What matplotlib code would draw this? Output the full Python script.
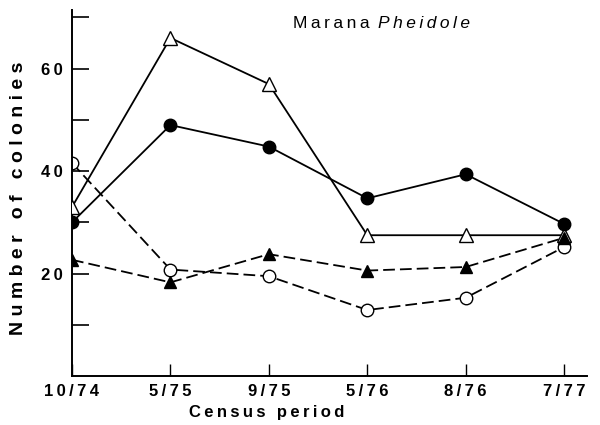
import matplotlib.pyplot as plt
import numpy as np

# census periods and colony counts
periods = ["10/74", "5/75", "9/75", "5/76", "8/76", "7/77"]
open_tri = [33, 66, 57, 27.5, 27.5, 27.5]
filled_circ = [30, 49, 44.8, 34.7, 39.4, 29.7]
open_circ = [41.6, 20.8, 19.5, 12.9, 15.3, 25.2]
filled_tri = [22.7, 18.3, 23.8, 20.6, 21.3, 27]

plt.rcParams['font.family'] = ['Liberation Sans', 'DejaVu Sans']

TS = '\u2009'  # thin space, for the wide letter spacing of the print


def spaced(s, gap=TS):
    # put a thin space between letters, a wider gap between words
    words = s.split(' ')
    return (gap + ' ' + gap).join(gap.join(w) for w in words)


fig = plt.figure(figsize=(6, 4.25), dpi=100)
ax = fig.add_axes([0.12, 0.115, 0.858, 0.862])

x = np.arange(len(periods))
dash = (0, (6.5, 2.8))

ax.plot(x, open_tri, color='black', lw=1.3, marker='^', ms=10,
        mfc='white', mec='black', mew=1.0, zorder=3)
ax.plot(x, filled_circ, color='black', lw=1.3, marker='o', ms=9,
        mfc='black', mec='black', zorder=4)
ax.plot(x, open_circ, color='black', lw=1.3, ls=dash, marker='o', ms=9,
        mfc='white', mec='black', mew=1.0, zorder=2)
ax.plot(x, filled_tri, color='black', lw=1.3, ls=dash, marker='^', ms=9,
        mfc='black', mec='black', zorder=3)

ax.set_xlim(0, 5.23)
ax.set_ylim(0, 71.5)
ax.set_xticks(x)
ax.set_xticklabels([spaced(p) for p in periods])
ax.set_yticks([20, 40, 60])
ax.set_yticklabels([spaced(str(v)) for v in [20, 40, 60]])
ax.set_yticks([10, 30, 50, 70], minor=True)

for s in ['top', 'right']:
    ax.spines[s].set_visible(False)
for s in ['left', 'bottom']:
    ax.spines[s].set_linewidth(1.4)

ax.tick_params(axis='y', which='both', direction='in', length=12, width=1.2)
ax.tick_params(axis='y', which='major', labelsize=12, pad=6.5)
ax.tick_params(axis='x', direction='in', length=9, width=1.0,
               labelsize=12, pad=6)
for lab in ax.get_xticklabels() + ax.get_yticklabels():
    lab.set_fontweight('bold')

fig.text(267 / 600, 8 / 425, spaced("Census period"), fontsize=12,
         fontweight='bold', ha='center', va='baseline')
fig.text(19 / 600, 1 - 198 / 425, "N u m b e r   o f   c o l o n i e s",
         fontsize=14, fontweight='bold', rotation=90,
         ha='center', va='center')

t = fig.text(293 / 600, 1 - 28 / 425, spaced("Marana") + ' ' + TS,
             fontsize=12.5, ha='left', va='baseline')
fig.canvas.draw()
bb = t.get_window_extent()
fig.text(bb.x1 / 600, 1 - 28 / 425, spaced("Pheidole"), fontsize=12.5,
         ha='left', va='baseline', style='italic')

fig.savefig("out.png", dpi=100)
